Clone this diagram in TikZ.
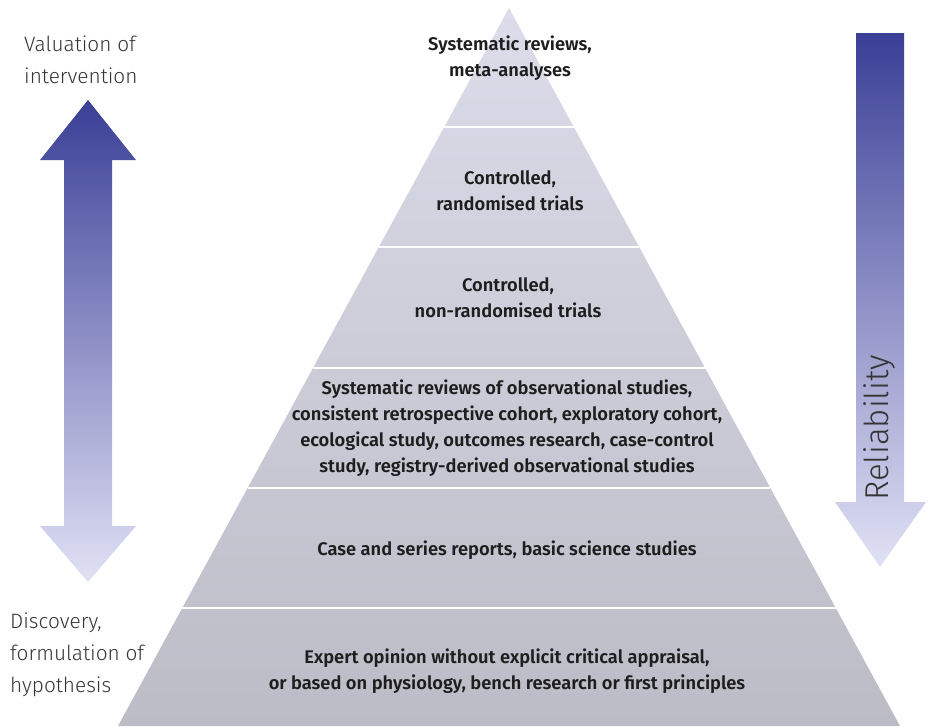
\documentclass[tikz,border=0pt]{standalone}
\usepackage{fontspec}
\setmainfont{Fira Sans}[BoldFont={Fira Sans SemiBold}]
\newfontfamily\sidefont{Fira Sans Light}
\usetikzlibrary{calc}
\definecolor{arrowdark}{HTML}{3A3F96}
\definecolor{arrowlight}{HTML}{E1E1F5}
\definecolor{pyrtop}{HTML}{DCDCEA}
\definecolor{pyrbottom}{HTML}{BBBCC6}
\definecolor{labeltext}{HTML}{1E1E1E}

\begin{document}
\begin{tikzpicture}[x=1pt, y=-1pt,
    layer/.style={text=labeltext, font=\fontsize{18.3}{26}\selectfont\bfseries, align=center, inner sep=0pt},
    side/.style={text=labeltext!90, font=\sidefont\fontsize{20.8}{32}\selectfont, align=left, anchor=north west, inner sep=0pt}]
        \useasboundingbox (0,0) rectangle (931,726);
        % pyramid
        \coordinate (apex) at (509,8);
        \coordinate (bl) at (118,726);
        \coordinate (br) at (900,726);
        \shade[top color=pyrtop, bottom color=pyrbottom] (apex) -- (br) -- (bl) -- cycle;
        \foreach \yy in {127,247,368,488,608}
            \draw[white, line width=2.5pt] ($(apex)!{(\yy-8)/718}!(bl)$) -- ($(apex)!{(\yy-8)/718}!(br)$);
        % layers
        \node[layer] (sysrev) at (510,58) {Systematic reviews,\\meta-analyses};
        \node[layer] (rct) at (510,191) {Controlled,\\randomised trials};
        \node[layer] (nonrct) at (508,298) {Controlled,\\non-randomised trials};
        \node[layer] (obs) at (507,428) {Systematic reviews of observational studies,\\consistent retrospective cohort, exploratory cohort,\\ecological study, outcomes research, case-control\\study, registry-derived observational studies};
        \node[layer] (cases) at (507,550) {Case and series reports, basic science studies};
        \node[layer] (expert) at (507,671) {Expert opinion without explicit critical appraisal,\\or based on physiology, bench research or first principles};
        % left arrow
        \shade[top color=arrowdark, bottom color=arrowlight]
            (64,160) -- (40,160) -- (88,100) -- (136,160) -- (112,160) -- (112,526)
            -- (136,526) -- (88,582) -- (40,526) -- (64,526) -- cycle;
        \node[side] (valuation) at (24,36) {Valuation of\\intervention};
        \node[side] (discovery) at (10,613) {Discovery,\\formulation of\\hypothesis};
        % right arrow
        \shade[top color=arrowdark, bottom color=arrowlight]
            (856,33) -- (904,33) -- (904,502) -- (926,502) -- (880,567) -- (835,502) -- (856,502) -- cycle;
        \node[text=labeltext!90, font=\sidefont\fontsize{33}{35}\selectfont, rotate=90, inner sep=0pt] (reliability) at (879,428) {Reliability};
\end{tikzpicture}
\end{document}
